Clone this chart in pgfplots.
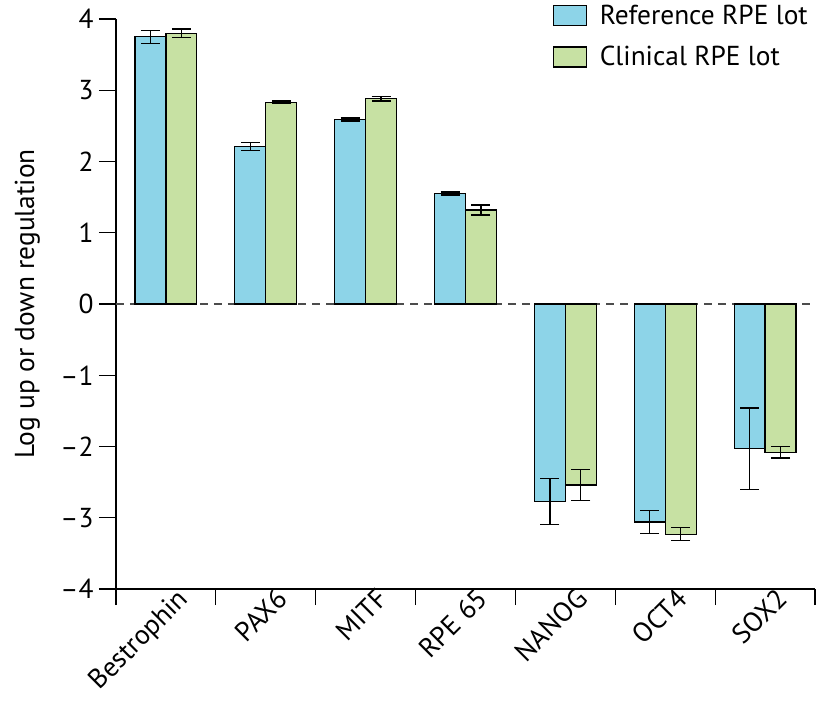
\documentclass[border=0pt]{standalone}
\usepackage{pgfplots}
\pgfplotsset{compat=1.18}
\usepackage{fontspec}
\setmainfont{PT Sans}
\definecolor{refblue}{RGB}{141,212,232}
\definecolor{clingreen}{RGB}{199,225,163}
\newcommand{\bigf}{\fontsize{27.5}{32}\selectfont}
\begin{document}
\begin{tikzpicture}[x=1bp,y=1bp]
\begin{axis}[
  name=ax,
  scale only axis,
  width=699bp, height=570bp,
  xmin=-0.5, xmax=6.5,
  ymin=-4, ymax=4,
  ybar=0pt,
  bar width=0.31,
  axis x line*=bottom,
  axis y line*=left,
  axis line style={line width=1.2pt, -},
  xtick={0,...,6},
  xticklabels={Bestrophin,PAX6,MITF,RPE 65,NANOG,OCT4,SOX2},
  minor xtick={-0.5,0.5,...,6.5},
  major x tick style={draw=none},
  minor x tick style={line width=1.2pt, black},
  minor tick length=16bp,
  ytick={-4,...,4},
  yticklabels={\textendash4,\textendash3,\textendash2,\textendash1,0,1,2,3,4},
  major y tick style={line width=1.2pt, black},
  major tick length=17bp,
  tick align=outside,
  tick pos=left,
  /pgf/number format/assume math mode=true,
  tick label style={font=\bigf},
  yticklabel style={xshift=-2bp},
  xticklabel style={rotate=45, anchor=north east, xshift=24bp, yshift=10bp},
  every axis y label/.style={at={(axis description cs:-0.127,0.5)}, rotate=90, anchor=center},
  ylabel={Log up or down regulation},
  label style={font=\bigf},
  legend style={draw=none, fill=none, at={(rel axis cs:1,1)}, anchor=north east,
    xshift=-7bp, yshift=14bp,
    font=\bigf, row sep=20bp, inner sep=0pt, nodes={inner sep=0pt},
    legend cell align=left},
  legend image code/.code={\draw[#1, line width=1.2pt] (0bp,-10bp) rectangle (33bp,10bp); \path (46bp,0bp);},
  error bars/error bar style={line width=1.3pt, black},
  error bars/error mark options={rotate=90, mark size=9.5bp, line width=1.3pt, black},
]
\draw[line width=1.2pt, black!70, dash pattern=on 8bp off 6bp] (axis cs:-0.5,0) -- (axis cs:6.5,0);
\addplot+[fill=refblue, draw=black, line width=1.2pt, error bars/.cd, y dir=both, y explicit]
  coordinates {
    (0,3.75) +- (0,0.09)
    (1,2.21) +- (0,0.06)
    (2,2.59) +- (0,0.02)
    (3,1.55) +- (0,0.02)
    (4,-2.77) +- (0,0.32)
    (5,-3.06) +- (0,0.16)
    (6,-2.03) +- (0,0.57)
  };
\addplot+[fill=clingreen, draw=black, line width=1.2pt, error bars/.cd, y dir=both, y explicit]
  coordinates {
    (0,3.80) +- (0,0.06)
    (1,2.83) +- (0,0.02)
    (2,2.88) +- (0,0.03)
    (3,1.32) +- (0,0.07)
    (4,-2.54) +- (0,0.22)
    (5,-3.23) +- (0,0.09)
    (6,-2.08) +- (0,0.08)
  };
\legend{Reference RPE lot, Clinical RPE lot}
\end{axis}
\pgfresetboundingbox
\path (ax.south west) ++(-116bp,-115bp) rectangle ++(817bp,704bp);
\end{tikzpicture}
\end{document}
